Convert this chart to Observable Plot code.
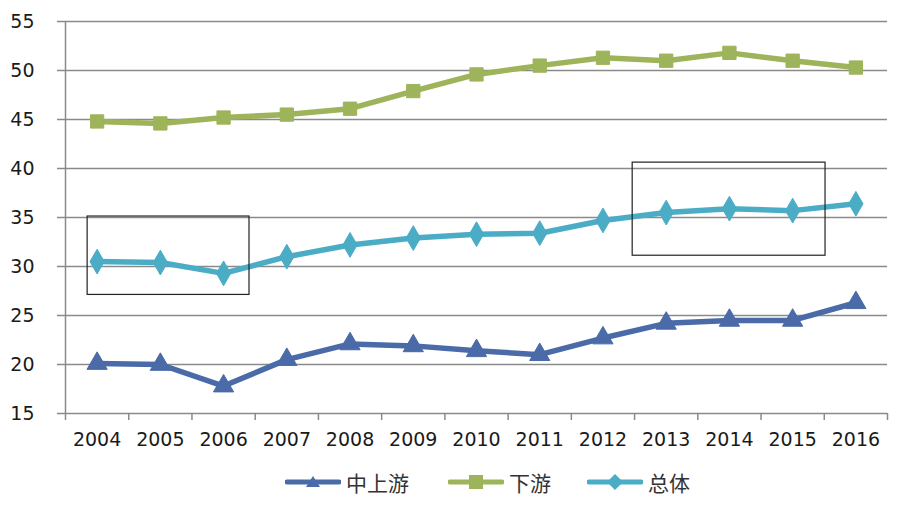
<!DOCTYPE html>
<html>
<head>
<meta charset="utf-8">
<script src="https://cdn.jsdelivr.net/npm/d3@7"></script>
<script src="https://cdn.jsdelivr.net/npm/@observablehq/plot@0.6"></script>
<style>
  html, body { margin: 0; padding: 0; background: #fff; }
  #wrap { width: 900px; }
  #legend { position: relative; height: 50px; width: 900px; }
  .item { position: absolute; top: 9px; display: flex; align-items: center; font-size: 21px; color: #333; font-family: "Noto Sans CJK SC", sans-serif; line-height: 26px; }
  .item svg { margin-right: 5px; }
  #chart svg text { font-family: "DejaVu Sans", sans-serif; }
</style>
</head>
<body>
<div id="wrap">
  <div id="chart"></div>
  <div id="legend"></div>
</div>
<script>
const years = [2004, 2005, 2006, 2007, 2008, 2009, 2010, 2011, 2012, 2013, 2014, 2015, 2016];
const seriesNames = ["中上游", "下游", "总体"];
const upstream   = [20.1, 20.0, 17.8, 20.5, 22.1, 21.9, 21.4, 21.0, 22.7, 24.2, 24.5, 24.5, 26.3];
const downstream = [44.8, 44.6, 45.2, 45.5, 46.1, 47.9, 49.6, 50.5, 51.3, 51.0, 51.8, 51.0, 50.3];
const overall    = [30.5, 30.4, 29.3, 31.0, 32.2, 32.9, 33.3, 33.4, 34.7, 35.5, 35.9, 35.7, 36.4];
const yTicks = [15, 20, 25, 30, 35, 40, 45, 50, 55];
const colors = ["#4a6aa8", "#9db45a", "#4bacc6"];
const symbols = ["triangle", "square", "diamond"];
// highlight boxes (data coordinates)
const boxX1 = [2003.85, 2012.47];
const boxX2 = [2006.41, 2015.52];
const boxY1 = [27.1, 31.1];
const boxY2 = [35.1, 40.6];

const allValues = [upstream, downstream, overall];
const rows = [];
seriesNames.forEach((s, i) => years.forEach((yr, j) => rows.push({series: s, year: yr, value: allValues[i][j]})));
const boxes = boxX1.map((d, i) => ({x1: d, x2: boxX2[i], y1: boxY1[i], y2: boxY2[i]}));
const boundaries = [years[0] - 0.5, ...years.map(y => y + 0.5)];

const chart = Plot.plot({
  width: 900,
  height: 460,
  marginTop: 21,
  marginBottom: 47,
  marginLeft: 65,
  marginRight: 13,
  style: {fontFamily: "'DejaVu Sans', sans-serif", fontSize: "19px", color: "#222", background: "#fff"},
  x: {type: "linear", domain: [years[0] - 0.5, years[years.length - 1] + 0.5]},
  y: {domain: [15, 55]},
  color: {domain: seriesNames, range: colors},
  symbol: {domain: seriesNames, range: symbols},
  marks: [
    Plot.ruleY(yTicks, {stroke: "#8a8a8a", strokeWidth: 1.5}),
    Plot.ruleX([years[0] - 0.5], {stroke: "#8a8a8a", strokeWidth: 1.5}),
    Plot.axisY({ticks: yTicks, tickSize: 8, tickPadding: 23, stroke: "#8a8a8a", strokeWidth: 1.5, fontSize: 19, fill: "#1a1a1a", label: null}),
    Plot.axisX({ticks: boundaries, tickSize: 7, tickFormat: () => "", stroke: "#8a8a8a", strokeWidth: 1.5, label: null}),
    Plot.axisX({ticks: years, tickSize: 0, tickPadding: 19, tickFormat: d => String(d), fontSize: 19, fill: "#1a1a1a", label: null}),
    Plot.line(rows, {x: "year", y: "value", z: "series", stroke: "series", strokeWidth: 5.5, curve: "linear"}),
    Plot.dot(rows, {x: "year", y: "value", symbol: "series", fill: "series", r: 7.5, stroke: "series", strokeWidth: 1}),
    Plot.rect(boxes, {x1: "x1", x2: "x2", y1: "y1", y2: "y2", fill: "none", stroke: "#222", strokeWidth: 1.2})
  ]
});
document.getElementById("chart").appendChild(chart);

// legend
const legend = document.getElementById("legend");
const legendLeft = [285, 448, 587];
const symPaths = {
  triangle: "M28,7 L35,18 L21,18 Z",
  square: "M21,6 L35,6 L35,20 L21,20 Z",
  diamond: "M28,5 L36,13 L28,21 L20,13 Z"
};
seriesNames.forEach((s, i) => {
  const div = document.createElement("div");
  div.className = "item";
  div.style.left = legendLeft[i] + "px";
  div.innerHTML = `<svg width="56" height="26"><line x1="2" y1="13" x2="54" y2="13" stroke="${colors[i]}" stroke-width="5" stroke-linecap="round"/><path d="${symPaths[symbols[i]]}" fill="${colors[i]}"/></svg><span>${s}</span>`;
  legend.appendChild(div);
});
</script>
</body>
</html>
